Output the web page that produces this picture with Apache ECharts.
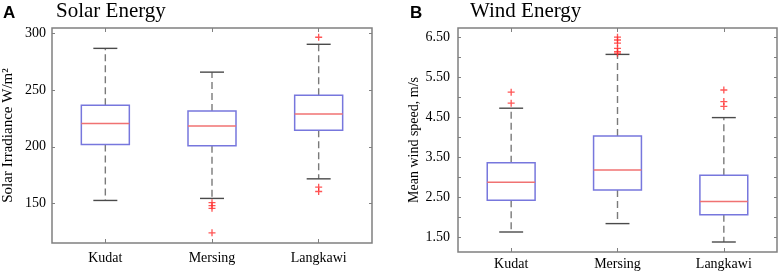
<!DOCTYPE html>
<html>
<head>
<meta charset="utf-8">
<script src="https://cdn.jsdelivr.net/npm/echarts@6/dist/echarts.min.js"></script>
<style>html,body{margin:0;padding:0;background:#fff}#c{width:782px;height:273px}</style>
</head>
<body>
<div id="c"></div>
<script>
// ---- data ----
var categories = ['Kudat', 'Mersing', 'Langkawi'];
// [lower whisker, Q1, median, Q3, upper whisker]
var solarBoxes = [
  [152.6, 202.0, 220.5, 236.8, 287.0],
  [154.4, 201.0, 218.4, 231.6, 266.0],
  [171.7, 214.6, 229.0, 245.6, 290.6]
];
var solarOutliers = [
  [1, 150.6], [1, 148.0], [1, 145.6], [1, 124.0],
  [2, 296.8], [2, 164.3], [2, 160.5]
];
var windBoxes = [
  [1.64, 2.435, 2.885, 3.37, 4.735],
  [1.85, 2.69, 3.19, 4.04, 6.08],
  [1.39, 2.07, 2.40, 3.06, 4.50]
];
var windOutliers = [
  [0, 5.135], [0, 4.86],
  [1, 6.51], [1, 6.44], [1, 6.36], [1, 6.23], [1, 6.15], [1, 6.11],
  [2, 5.19], [2, 4.90], [2, 4.78]
];
var solarTicks = [150, 200, 250, 300];
var windTicks = [1.5, 2, 2.5, 3, 3.5, 4, 4.5, 5, 5.5, 6, 6.5];
var windLabels = [1.5, 2.5, 3.5, 4.5, 5.5, 6.5];

// ---- styling ----
var SERIF = "'Liberation Serif', 'Times New Roman', serif";
var frameColor = '#808080';
var plusPath = 'path://M-0.75,-4H0.75V-0.75H4V0.75H0.75V4H-0.75V0.75H-4V-0.75H-0.75Z';

function boxData(arr) {
  return arr.map(function (b, i) { return [i].concat(b); });
}

function renderBox(params, api) {
  var c = api.value(0);
  var vals = [api.value(1), api.value(2), api.value(3), api.value(4), api.value(5)];
  var bw = api.size([1, 0])[0] * 0.45;
  var pts = vals.map(function (v) { return api.coord([c, v]); });
  var x = pts[0][0];
  var yMin = pts[0][1], yQ1 = pts[1][1], yMed = pts[2][1], yQ3 = pts[3][1], yMax = pts[4][1];
  var dash = { stroke: '#7a7a7a', lineWidth: 1.4, lineDash: [7, 4] };
  var cap = { stroke: '#4a4a4a', lineWidth: 1.4 };
  return {
    type: 'group',
    children: [
      { type: 'line', shape: { x1: x, y1: yQ3, x2: x, y2: yMax }, style: dash },
      { type: 'line', shape: { x1: x, y1: yQ1, x2: x, y2: yMin }, style: dash },
      { type: 'line', shape: { x1: x - bw / 4, y1: yMax, x2: x + bw / 4, y2: yMax }, style: cap },
      { type: 'line', shape: { x1: x - bw / 4, y1: yMin, x2: x + bw / 4, y2: yMin }, style: cap },
      { type: 'rect', shape: { x: x - bw / 2, y: yQ3, width: bw, height: yQ1 - yQ3 },
        style: { fill: '#fff', stroke: '#7777dd', lineWidth: 1.5 } },
      { type: 'line', shape: { x1: x - bw / 2, y1: yMed, x2: x + bw / 2, y2: yMed },
        style: { stroke: '#f07272', lineWidth: 1.5 } }
    ]
  };
}

function catAxis(gridIndex, position, showLabel, margin) {
  return {
    type: 'category', gridIndex: gridIndex, position: position, data: categories,
    axisLine: { show: false },
    axisTick: { show: true, inside: true, alignWithLabel: true, length: 4,
      lineStyle: { color: frameColor } },
    axisLabel: { show: showLabel, margin: margin, fontFamily: SERIF, fontSize: 14, color: '#000' },
    splitLine: { show: false }
  };
}

var chart = echarts.init(document.getElementById('c'), null, { renderer: 'canvas' });
chart.setOption({
  animation: false,
  backgroundColor: '#fff',
  grid: [
    { left: 51, top: 28, width: 321, height: 215, show: true, borderColor: frameColor, borderWidth: 1.5, backgroundColor: 'transparent' },
    { left: 458, top: 28, width: 319, height: 224, show: true, borderColor: frameColor, borderWidth: 1.5, backgroundColor: 'transparent' }
  ],
  graphic: [
    { type: 'text', x: 3, y: 13, style: { text: 'A', font: "bold 17px 'Liberation Sans', Arial, sans-serif", fill: '#000', verticalAlign: 'middle' } },
    { type: 'text', x: 56, y: 11, style: { text: 'Solar Energy', font: "21px " + SERIF, fill: '#000', verticalAlign: 'middle' } },
    { type: 'text', x: 410, y: 13, style: { text: 'B', font: "bold 17px 'Liberation Sans', Arial, sans-serif", fill: '#000', verticalAlign: 'middle' } },
    { type: 'text', x: 470, y: 11, style: { text: 'Wind Energy', font: "21px " + SERIF, fill: '#000', verticalAlign: 'middle' } }
  ],
  xAxis: [
    catAxis(0, 'bottom', true, 8),
    catAxis(0, 'top', false, 8),
    catAxis(1, 'bottom', true, 5),
    catAxis(1, 'top', false, 5)
  ],
  yAxis: [
    {
      type: 'value', gridIndex: 0, position: 'left', min: 115, max: 305,
      name: 'Solar Irradiance W/m²', nameLocation: 'middle', nameGap: 36,
      nameTextStyle: { fontFamily: SERIF, fontSize: 15, color: '#000' },
      axisLine: { show: false },
      axisTick: { show: true, inside: true, length: 3, customValues: solarTicks, lineStyle: { color: frameColor } },
      axisLabel: { margin: 6, customValues: solarTicks, fontFamily: SERIF, fontSize: 14, color: '#000' },
      splitLine: { show: false }
    },
    {
      type: 'value', gridIndex: 0, position: 'right', min: 115, max: 305,
      axisLine: { show: false },
      axisTick: { show: true, inside: true, length: 3, customValues: solarTicks, lineStyle: { color: frameColor } },
      axisLabel: { show: false },
      splitLine: { show: false }
    },
    {
      type: 'value', gridIndex: 1, position: 'left', min: 1.14, max: 6.74,
      name: 'Mean wind speed, m/s', nameLocation: 'middle', nameGap: 37,
      nameTextStyle: { fontFamily: SERIF, fontSize: 14, color: '#000' },
      axisLine: { show: false },
      axisTick: { show: true, inside: true, length: 3, customValues: windTicks, lineStyle: { color: frameColor } },
      axisLabel: { margin: 8, customValues: windLabels, fontFamily: SERIF, fontSize: 14, color: '#000',
        formatter: function (v) { return v.toFixed(2); } },
      splitLine: { show: false }
    },
    {
      type: 'value', gridIndex: 1, position: 'right', min: 1.14, max: 6.74,
      axisLine: { show: false },
      axisTick: { show: true, inside: true, length: 3, customValues: windTicks, lineStyle: { color: frameColor } },
      axisLabel: { show: false },
      splitLine: { show: false }
    }
  ],
  series: [
    { type: 'custom', xAxisIndex: 0, yAxisIndex: 0, renderItem: renderBox, data: boxData(solarBoxes),
      encode: { x: 0, y: [1, 2, 3, 4, 5] } },
    { type: 'scatter', xAxisIndex: 0, yAxisIndex: 0, data: solarOutliers, symbol: plusPath, symbolSize: 7,
      itemStyle: { color: '#ff2a2a' } },
    { type: 'custom', xAxisIndex: 2, yAxisIndex: 2, renderItem: renderBox, data: boxData(windBoxes),
      encode: { x: 0, y: [1, 2, 3, 4, 5] } },
    { type: 'scatter', xAxisIndex: 2, yAxisIndex: 2, data: windOutliers, symbol: plusPath, symbolSize: 7,
      itemStyle: { color: '#ff2a2a' } }
  ]
});
</script>
</body>
</html>
